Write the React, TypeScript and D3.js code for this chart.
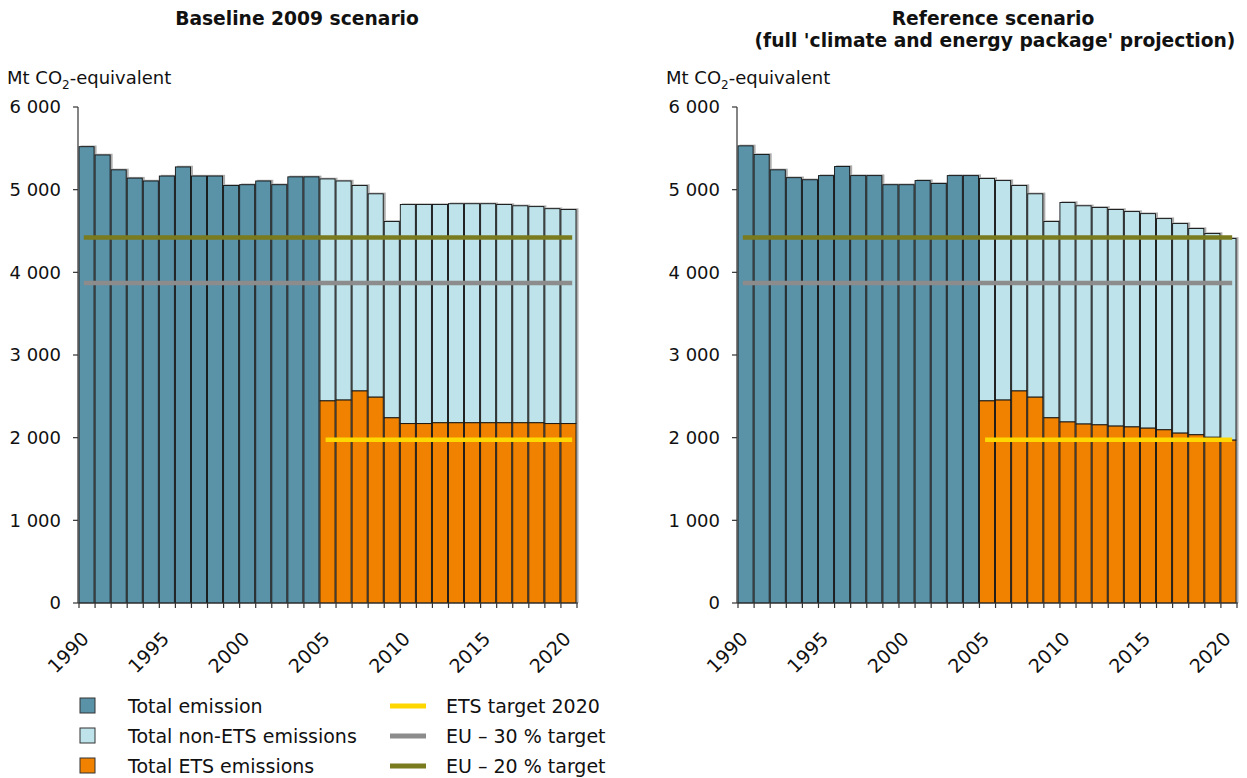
import React from "react";
import * as d3 from "d3";

const years: number[] = d3.range(1990, 2021);
const tickYears = [1990, 1995, 2000, 2005, 2010, 2015, 2020];
const yTicks = [0, 1000, 2000, 3000, 4000, 5000, 6000];

// Baseline 2009 scenario
const baselineTotal = [5520, 5420, 5240, 5140, 5105, 5165, 5275, 5165, 5165, 5050, 5060, 5105, 5060, 5155, 5155,
  5130, 5105, 5050, 4950, 4615, 4820, 4820, 4820, 4830, 4830, 4830, 4820, 4805, 4795, 4770, 4760];
const baselineETS = [2445, 2455, 2565, 2490, 2240, 2170, 2170, 2180, 2180, 2180, 2180, 2180, 2180, 2180, 2170, 2170];

// Reference scenario
const referenceTotal = [5530, 5425, 5240, 5145, 5120, 5170, 5280, 5170, 5170, 5060, 5060, 5110, 5075, 5170, 5170,
  5135, 5110, 5050, 4950, 4615, 4845, 4805, 4785, 4760, 4735, 4710, 4650, 4590, 4530, 4470, 4410];
const referenceETS = [2445, 2455, 2565, 2490, 2240, 2190, 2165, 2155, 2140, 2130, 2115, 2095, 2055, 2035, 2005, 1970];

const etsStartYear = 2005;
const etsTarget2020 = 1975;
const eu30Target = 3870;
const eu20Target = 4420;

const C = {
  total: "#5A92A8",
  nonEts: "#BEE3EA",
  ets: "#F08200",
  yellow: "#FFD700",
  gray: "#8C8C8C",
  olive: "#7A7A1E",
};

const FONT = "'DejaVu Sans', Verdana, sans-serif";

type PanelProps = {
  x0: number;
  x1: number;
  total: number[];
  ets: number[];
};

function Panel({ x0, x1, total, ets }: PanelProps) {
  const x = d3.scaleBand<number>().domain(years).range([x0, x1]).padding(0);
  const y = d3.scaleLinear().domain([0, 6000]).range([603, 107]);
  const bw = x.bandwidth();
  const lineStart = x(1990)! + bw * 0.3;
  const lineEnd = x(2020)! + bw * 0.7;
  const etsLineStart = x(etsStartYear)! + bw * 0.35;

  const bars: React.ReactNode[] = [];
  years.forEach((yr, i) => {
    const bx = x(yr)!;
    const t = total[i];
    bars.push(
      <rect key={`s${yr}`} x={bx + 1.5} y={y(t) - 1.2} width={bw} height={y(0) - y(t) + 1.2} fill="#999" opacity={0.8} />
    );
  });
  years.forEach((yr, i) => {
    const bx = x(yr)!;
    const t = total[i];
    if (yr < etsStartYear) {
      bars.push(
        <rect key={`b${yr}`} x={bx} y={y(t)} width={bw - 1} height={y(0) - y(t)} fill={C.total} stroke="#111" strokeWidth={0.9} />
      );
    } else {
      const e = ets[yr - etsStartYear];
      bars.push(
        <g key={`b${yr}`}>
          <rect x={bx} y={y(t)} width={bw - 1} height={y(e) - y(t)} fill={C.nonEts} stroke="#111" strokeWidth={0.9} />
          <rect x={bx} y={y(e)} width={bw - 1} height={y(0) - y(e)} fill={C.ets} stroke="#111" strokeWidth={0.9} />
        </g>
      );
    }
  });

  const axisX = x0 - 1;
  return (
    <g>
      {bars}
      <line x1={lineStart} x2={lineEnd} y1={y(eu30Target)} y2={y(eu30Target)} stroke={C.gray} strokeWidth={4.5} />
      <line x1={lineStart} x2={lineEnd} y1={y(eu20Target)} y2={y(eu20Target)} stroke={C.olive} strokeWidth={4.5} />
      <line x1={etsLineStart} x2={lineEnd} y1={y(etsTarget2020)} y2={y(etsTarget2020)} stroke={C.yellow} strokeWidth={4.5} />
      <line x1={axisX} x2={axisX} y1={y(6000)} y2={y(0)} stroke="#333" strokeWidth={1.2} />
      {yTicks.map((v) => (
        <g key={v}>
          <line x1={axisX - 5} x2={axisX} y1={y(v)} y2={y(v)} stroke="#333" strokeWidth={1.2} />
          <text x={axisX - 17} y={y(v)} dy="0.36em" textAnchor="end" fontSize={18} fontFamily={FONT} fill="#111">
            {d3.format(",")(v).replace(",", " ")}
          </text>
        </g>
      ))}
      <line x1={axisX} x2={x1 + 1} y1={y(0)} y2={y(0)} stroke="#333" strokeWidth={1.2} />
      {years.concat([2021]).map((yr) => {
        const tx = yr === 2021 ? x1 : x(yr)!;
        return <line key={`t${yr}`} x1={tx} x2={tx} y1={y(0)} y2={y(0) + 5} stroke="#333" strokeWidth={1.2} />;
      })}
      {tickYears.map((yr) => {
        const cx = x(yr)! + bw / 2;
        return (
          <text key={`l${yr}`} transform={`translate(${cx + 3},${y(0) + 37}) rotate(-45)`} textAnchor="end"
            fontSize={19} fontFamily={FONT} fill="#111">
            {yr}
          </text>
        );
      })}
      <text x={axisX - 71} y={84} fontSize={18} fontFamily={FONT} fill="#111">
        Mt CO<tspan dy={5} fontSize={12}>2</tspan><tspan dy={-5}>-equivalent</tspan>
      </text>
    </g>
  );
}

const legendBoxes = [
  { label: "Total emission", color: C.total },
  { label: "Total non-ETS emissions", color: C.nonEts },
  { label: "Total ETS emissions", color: C.ets },
];
const legendLines = [
  { label: "ETS target 2020", color: C.yellow },
  { label: "EU \u2013 30 % target", color: C.gray },
  { label: "EU \u2013 20 % target", color: C.olive },
];

export default function App() {
  return (
    <svg width={1247} height={778} style={{ position: "absolute", left: 0, top: 0 }}>
      <rect width={1247} height={778} fill="#fff" />
      <text x={297} y={25} textAnchor="middle" fontSize={18.7} fontWeight="bold" fontFamily={FONT} fill="#111">
        Baseline 2009 scenario
      </text>
      <text x={993} y={25} textAnchor="middle" fontSize={18.7} fontWeight="bold" fontFamily={FONT} fill="#111">
        Reference scenario
      </text>
      <text x={995} y={47} textAnchor="middle" fontSize={18.7} fontWeight="bold" fontFamily={FONT} fill="#111">
        (full 'climate and energy package' projection)
      </text>
      <Panel x0={79} x1={577} total={baselineTotal} ets={baselineETS} />
      <Panel x0={738} x1={1237} total={referenceTotal} ets={referenceETS} />
      {legendBoxes.map((d, i) => (
        <g key={d.label}>
          <rect x={80} y={698 + i * 30} width={15} height={15} fill={d.color} stroke="#333" strokeWidth={1} />
          <text x={128} y={713 + i * 30} fontSize={19} fontFamily={FONT} fill="#111">{d.label}</text>
        </g>
      ))}
      {legendLines.map((d, i) => (
        <g key={d.label}>
          <line x1={390} x2={426} y1={706 + i * 30} y2={706 + i * 30} stroke={d.color} strokeWidth={5} />
          <text x={446} y={713 + i * 30} fontSize={19} fontFamily={FONT} fill="#111">{d.label}</text>
        </g>
      ))}
    </svg>
  );
}
